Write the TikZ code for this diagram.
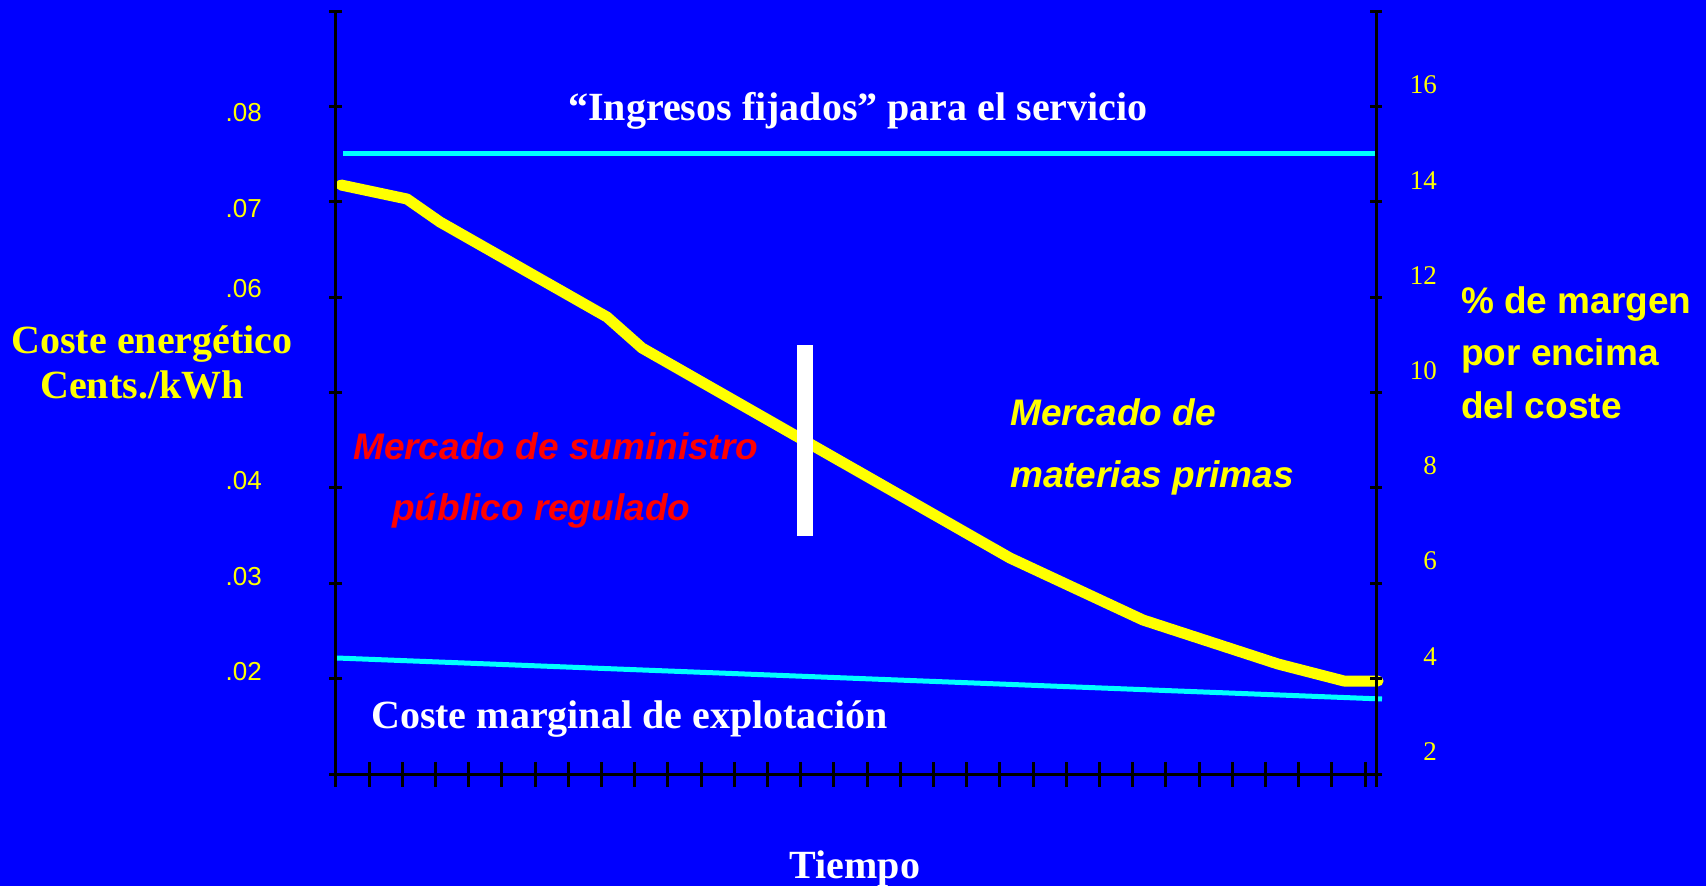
\documentclass[tikz,border=0pt]{standalone}
\usepackage{fontspec}
\setmainfont{Liberation Serif}
\setsansfont{Liberation Sans}
\definecolor{slideblue}{RGB}{0,0,255}
\definecolor{linecyan}{RGB}{0,255,255}
\definecolor{markyellow}{RGB}{255,255,0}
\definecolor{markred}{RGB}{255,0,0}
\begin{document}
\begin{tikzpicture}[x=1pt,y=-1pt,
  numleft/.style={anchor=east,inner sep=0pt,text=markyellow,font=\sffamily\fontsize{26}{30}\selectfont},
  numright/.style={anchor=east,inner sep=0pt,text=markyellow,font=\rmfamily\fontsize{27}{30}\selectfont},
  heading/.style={inner sep=0pt,font=\rmfamily\bfseries\fontsize{40}{48}\selectfont},
  market/.style={anchor=base west,inner sep=0pt,font=\sffamily\bfseries\itshape\fontsize{37}{44}\selectfont},
  margin/.style={anchor=base west,inner sep=0pt,text=markyellow,font=\sffamily\bfseries\fontsize{37}{44}\selectfont}]
  \path[use as bounding box,fill=slideblue] (0,0) rectangle (1706,886);
  % cost lines
  \draw[linecyan,line width=5pt] (343,153) -- (1377,153);
  \draw[linecyan,line width=5pt] (337,658) -- (1382,699);
  \draw[markyellow,line width=11pt,line cap=round,line join=round] (341,185) -- (407,199) -- (440,222) -- (607,317) -- (642,348) -- (1010,558) -- (1143,620) -- (1278,664) -- (1344,681) -- (1378,681);
  \fill[white] (797,345) rectangle (813,536);
  % axes
  \draw[line width=3pt] (335,11) -- (335,787);
  \draw[line width=3pt] (1376,11) -- (1376,787);
  \draw[line width=3pt] (329,774) -- (1382,774);
  \foreach \k in {0,...,8} {
    \draw[line width=3pt] (329,{11+95.375*\k}) -- (342,{11+95.375*\k});
    \draw[line width=3pt] (1370,{11+95.375*\k}) -- (1382,{11+95.375*\k});
  }
  \foreach \k in {0,...,30}
    \draw[line width=3pt] ({369+33.2*\k},762) -- ({369+33.2*\k},787);
  % scale labels
  \foreach \v/\y in {08/113,07/209,06/289,04/481,03/577,02/672}
    \node[numleft] (c\v) at (262,\y) {.\v};
  \foreach \v/\y in {16/85,14/181,12/276,10/371,8/466,6/561,4/657,2/752}
    \node[numright] (m\v) at (1437,\y) {\v};
  % texts
  \node[heading,anchor=base,text=white] (ingresos) at (858,120) {“Ingresos fijados” para el servicio};
  \node[heading,anchor=base west,text=white] (marginal) at (371,728) {Coste marginal de explotación};
  \node[heading,anchor=base,text=white] (tiempo) at (855,878) {Tiempo};
  \node[heading,anchor=base,text=markyellow] (coste) at (152,353) {Coste energético};
  \node[heading,anchor=base,text=markyellow] (cents) at (142,398) {Cents./kWh};
  \node[market,text=markred] (regulado1) at (353,459) {Mercado de suministro};
  \node[market,text=markred] (regulado2) at (392,520) {público regulado};
  \node[market,text=markyellow] (materias1) at (1010,425) {Mercado de};
  \node[market,text=markyellow] (materias2) at (1010,487) {materias primas};
  \node[margin] (pct1) at (1461,313) {\% de margen};
  \node[margin] (pct2) at (1461,365) {por encima};
  \node[margin] (pct3) at (1461,418) {del coste};
\end{tikzpicture}
\end{document}
